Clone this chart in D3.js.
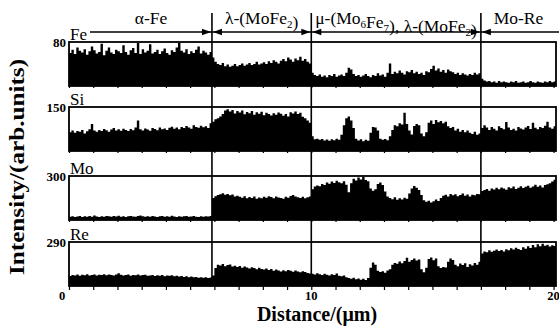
<!DOCTYPE html>
<html>
<head>
<meta charset="utf-8">
<script src="https://cdn.jsdelivr.net/npm/d3@7"></script>
<style>
  body { margin: 0; background: #fff; }
  svg { display: block; }
</style>
</head>
<body>
<div id="chart"></div>
<script>
// line scan, one value per 0.1 um step
const step = 0.1;

const feValues = [
  60,66,58,70,64,61,67,57,63,72,65,59,62,77,56,64,70,61,58,66,63,60,74,62,57,65,69,60,78,58,
  67,61,64,76,59,62,66,58,63,68,60,57,65,62,70,78,64,61,67,58,63,60,66,72,59,64,61,57,62,
  52,44,40,38,42,36,39,35,37,40,36,38,41,37,39,42,38,40,44,39,41,43,40,45,42,47,44,41,46,49,
  45,52,48,44,50,47,53,46,49,44,41,
  24,20,18,21,17,19,16,20,18,22,17,19,21,18,24,33,30,22,18,20,17,19,22,18,16,20,18,23,19,21,
  17,24,41,22,26,23,28,24,21,27,25,29,23,26,22,24,20,27,25,31,37,28,32,26,29,24,30,27,25,22,
  24,20,23,21,19,22,20,24,21,23,
  13,10,8,9,7,8,6,9,7,8,7,6,8,7,9,6,7,8,6,7,9,7,6,8,7,6,8,7,9,7,8
];

const siValues = [
  64,70,62,68,66,72,60,67,74,92,70,66,72,68,75,71,66,73,78,70,74,69,76,72,68,75,71,80,104,74,
  70,77,73,69,78,75,71,80,74,77,72,79,83,76,80,74,82,78,85,80,76,88,82,79,86,81,84,78,95,
  100,108,112,118,126,138,142,135,140,128,136,131,138,125,133,129,136,124,132,127,
  134,122,130,126,121,129,124,131,127,120,126,118,132,128,135,126,130,117,112,104,96,
  50,40,42,38,41,36,39,35,40,37,42,38,55,88,112,118,104,78,42,36,40,33,38,35,62,82,80,70,42,38,
  41,37,50,72,88,84,95,90,130,92,70,56,85,92,88,60,50,64,96,104,92,106,98,102,95,100,84,78,82,70,
  76,66,72,64,70,62,58,66,55,60,
  78,88,80,72,82,76,70,84,78,74,99,80,72,76,70,82,77,73,80,85,75,96,79,74,82,78,86,100,80,76,84
];

const moValues = [
  22,26,20,24,28,21,25,23,27,22,30,24,21,26,23,28,25,22,27,24,29,23,26,21,25,28,24,22,27,31,
  25,23,26,22,28,24,21,25,27,23,26,22,29,24,21,26,23,25,28,22,24,27,23,21,25,22,26,24,28,
  150,162,170,176,182,172,178,168,174,160,166,158,152,162,148,156,150,160,145,154,
  148,158,152,162,156,148,160,154,150,145,158,152,164,170,160,155,150,158,148,155,160,
  210,228,236,230,245,238,255,248,262,252,268,258,250,264,240,190,250,282,270,290,
  276,294,272,265,215,200,210,245,256,238,195,160,150,142,155,138,148,140,152,145,
  180,215,232,220,205,170,135,125,132,120,128,140,130,150,165,172,160,178,168,175,
  162,170,180,166,174,160,172,168,178,176,
  198,205,212,200,215,208,220,210,222,214,206,224,216,228,212,220,230,218,226,234,
  220,228,240,226,235,222,238,244,250,262,275
];

const reValues = [
  66,72,70,75,68,74,71,77,69,73,76,70,74,72,78,71,75,73,69,76,84,74,70,72,75,68,73,71,76,69,
  72,74,67,70,73,66,71,68,72,65,69,67,71,64,68,62,66,60,64,58,62,57,60,55,58,54,57,52,56,
  70,118,140,135,145,130,138,142,128,134,125,132,120,128,122,115,124,118,110,120,
  112,108,116,105,112,100,108,102,96,104,98,106,100,94,102,96,90,98,92,86,82,
  80,76,84,78,72,80,74,70,78,72,82,68,64,70,58,52,48,55,45,50,42,48,40,52,120,155,140,100,92,98,
  88,102,110,140,152,146,162,150,165,186,160,172,182,168,175,110,90,120,178,188,
  170,182,130,118,126,122,160,182,172,140,130,148,138,150,126,144,135,152,140,160,
  215,228,222,235,226,232,240,230,238,228,242,236,248,240,252,244,238,255,246,262,
  250,270,256,275,262,278,266,272,260,268,264
];

const elements = ["Fe", "Si", "Mo", "Re"];
const maxLabels = [80, 150, 300, 290];
const series = [feValues, siValues, moValues, reValues];

// phase boundaries (um) and the phase names between them
const boundaries = [5.9, 10, 17];
const phaseNames = [
  [["α-Fe"]],
  [["λ-(MoFe"], ["2", true], [")"]],
  [["μ-(Mo"], ["6", true], ["Fe"], ["7", true], ["), λ-(MoFe"], ["2", true], [")"]],
  [["Mo-Re"]]
];
const xTicks = [0, 10, 20];

const width = 559, height = 330;
const panelTops = [42, 107, 176, 242];
const panelH = 44;
const serif = "'Liberation Serif', 'DejaVu Serif', serif";

const svg = d3.select("#chart").append("svg")
  .attr("width", width)
  .attr("height", height);

const xMax = series[0].length * step;
const x = d3.scaleLinear().domain([0, xMax]).range([69, 556]);

// panels
elements.forEach((el, k) => {
  const top = panelTops[k];
  const y = d3.scaleLinear().domain([0, maxLabels[k]]).range([top + panelH, top]);
  const g = svg.append("g").attr("class", "panel");

  const pts = series[k].map((v, i) => [i * step, v]);
  pts.push([xMax, series[k][series[k].length - 1]]);

  const area = d3.area()
    .x(d => x(d[0]))
    .y0(top + panelH)
    .y1(d => y(d[1]))
    .curve(d3.curveStepAfter);

  g.append("path")
    .attr("d", area(pts))
    .attr("fill", "#000");

  g.append("rect")
    .attr("x", x(0))
    .attr("y", top)
    .attr("width", x(xMax) - x(0))
    .attr("height", panelH)
    .attr("fill", "none")
    .attr("stroke", "#000")
    .attr("stroke-width", 1.8);

  // small ticks below each panel
  g.append("g")
    .attr("transform", `translate(0, ${top + panelH})`)
    .call(d3.axisBottom(x).tickValues(d3.range(0, 21, 1)).tickSize(k === 3 ? 4 : 2).tickFormat(""))
    .call(a => a.select(".domain").remove())
    .selectAll("line").attr("stroke-width", 1.2);

  g.append("text")
    .attr("x", x(0) - 3)
    .attr("y", top + 5)
    .attr("text-anchor", "end")
    .attr("font-family", serif)
    .attr("font-weight", "bold")
    .attr("font-size", 13)
    .text(maxLabels[k]);

  g.append("text")
    .attr("x", x(0) + 1)
    .attr("y", top - 2)
    .attr("font-family", serif)
    .attr("font-size", 17)
    .text(el);
});

// phase boundary lines
svg.append("g")
  .selectAll("line")
  .data(boundaries)
  .join("line")
    .attr("x1", d => x(d))
    .attr("x2", d => x(d))
    .attr("y1", 13)
    .attr("y2", panelTops[3] + panelH)
    .attr("stroke", "#000")
    .attr("stroke-width", 1.6);

// arrows above the panels
const arrowY = 32;
const edges = [x(0) + 21, ...boundaries.map(x), width];
const head = (px, dir) => `M${px},${arrowY}L${px - dir * 9},${arrowY - 3.2}L${px - dir * 9},${arrowY + 3.2}Z`;
const arrows = svg.append("g");
phaseNames.forEach((name, k) => {
  const x0 = edges[k], x1 = edges[k + 1];
  arrows.append("line")
    .attr("x1", x0).attr("x2", x1)
    .attr("y1", arrowY).attr("y2", arrowY)
    .attr("stroke", "#000").attr("stroke-width", 1.3);
  if (k > 0) arrows.append("path").attr("d", head(x0 + 1, -1)).attr("fill", "#000");
  if (k < phaseNames.length - 1) arrows.append("path").attr("d", head(x1 - 1, 1)).attr("fill", "#000");

  const lo = k === 0 ? edges[0] : x0;
  const hi = k === phaseNames.length - 1 ? x(xMax) : x1;
  const t = arrows.append("text")
    .attr("x", (lo + hi) / 2)
    .attr("y", 24)
    .attr("text-anchor", "middle")
    .attr("font-family", serif)
    .attr("font-size", 17.5);
  name.forEach(([s, sub]) => {
    t.append("tspan")
      .attr("font-size", sub ? 11 : null)
      .attr("dy", sub ? 4 : null)
      .text(s);
    if (sub) t.append("tspan").attr("dy", -4).text("");
  });
});

// x axis labels
svg.append("g")
  .selectAll("text")
  .data(xTicks)
  .join("text")
    .attr("x", d => x(d) + (d === 0 ? -7 : 0))
    .attr("y", 300)
    .attr("text-anchor", "middle")
    .attr("font-family", serif)
    .attr("font-weight", "bold")
    .attr("font-size", 12.5)
    .text(d => d);

svg.append("text")
  .attr("x", 317)
  .attr("y", 321)
  .attr("text-anchor", "middle")
  .attr("font-family", serif)
  .attr("font-weight", "bold")
  .attr("font-size", 20)
  .text("Distance/(μm)");

svg.append("text")
  .attr("transform", "translate(24, 167) rotate(-90)")
  .attr("text-anchor", "middle")
  .attr("font-family", serif)
  .attr("font-weight", "bold")
  .attr("font-size", 21)
  .attr("textLength", 216)
  .attr("lengthAdjust", "spacingAndGlyphs")
  .text("Intensity/(arb.units)");
</script>
</body>
</html>
